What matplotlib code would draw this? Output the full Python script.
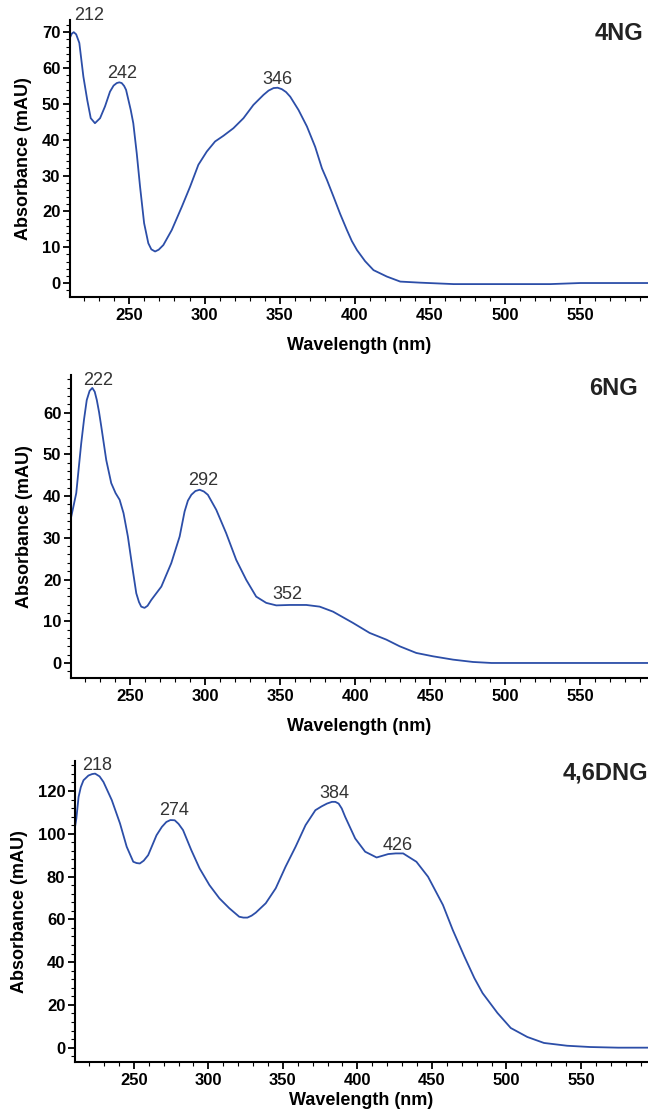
import matplotlib
matplotlib.use("Agg")
import matplotlib.pyplot as plt
from matplotlib.ticker import MultipleLocator

plt.rcParams['font.family'] = ['Liberation Sans', 'DejaVu Sans']

# 4NG spectrum (nm, mAU)
wl_4ng = [210.5, 211.7, 213, 214.6, 216.7, 219.4, 222, 224.3, 227.1, 230.5, 233.8, 237.1,
          239.5, 241.6, 243.3, 244.9, 246.5, 247.8, 250.9, 252.6, 254.9, 257.1, 259.8,
          262.6, 264.6, 267.1, 269.5, 272.6, 278.2, 284.9, 290.4, 295.9, 301.5, 307,
          312.6, 319.2, 325.9, 332.5, 339.2, 342.6, 345.9, 348.6, 351.4, 354.2, 357,
          362.5, 368.1, 373.6, 378.1, 381.4, 385.8, 390.2, 394.7, 398, 401.4, 406.8,
          412.4, 421.3, 430.2, 443.5, 465.7, 500, 530, 550, 570, 595]
abs_4ng = [68.5, 69.6, 70, 69.4, 67, 57.6, 51, 46, 44.6, 46, 49.3, 53.4,
           55.1, 55.8, 56, 55.8, 55, 53.9, 48.3, 44.6, 36.2, 26.9, 16.7,
           11.1, 9.4, 8.8, 9.3, 10.6, 14.8, 21.3, 26.9, 33, 36.7, 39.5,
           41.1, 43.2, 46, 49.7, 52.5, 53.7, 54.4, 54.5, 54.1, 53.3, 52,
           48.3, 43.7, 38, 32, 28.8, 24.1, 19.3, 14.8, 11.7, 9.2, 6.1,
           3.6, 1.8, 0.4, 0.1, -0.3, -0.3, -0.3, 0.0, 0.0, 0.0]

# 6NG spectrum
wl_6ng = [210.2, 212, 214, 215.6, 217.3, 219.2, 221, 222.9, 224.7, 226.3, 227.7, 229.2,
          230.7, 234, 237.3, 240.2, 242.9, 245.5, 248.4, 251.3, 254, 255.8, 257.3, 259.5,
          261.5, 264, 270.7, 277.3, 282.9, 286.2, 288.4, 290.7, 293.4, 296.2, 299, 301.7,
          307.3, 313.9, 320.6, 327.3, 333.9, 340.6, 347.3, 356.2, 367.3, 376.2, 385.1,
          398.4, 409.5, 420.6, 429.5, 440.6, 451.7, 465.1, 478.4, 490.7, 520, 560, 595]
abs_6ng = [34.3, 37.3, 40.7, 46.5, 52.6, 58.4, 63, 65.2, 65.9, 65, 63, 60.1,
           56.6, 48.6, 43.1, 40.7, 39.1, 35.9, 30.3, 23.1, 16.7, 14.6, 13.5, 13.2,
           13.7, 15.1, 18.3, 23.9, 30.3, 36.3, 38.9, 40.3, 41.2, 41.5, 41.1, 40.3,
           36.7, 31.1, 24.7, 19.9, 15.9, 14.4, 13.8, 13.9, 13.9, 13.5, 12.3,
           9.6, 7.2, 5.6, 4.0, 2.4, 1.6, 0.8, 0.24, 0.0, 0.0, 0.0, 0.0]

# 4,6DNG spectrum
wl_dng = [210.7, 211.4, 212.9, 214.4, 216.2, 219.5, 222, 224, 227, 229.6, 235.2, 240.7,
          245.2, 249.6, 251.8, 254, 256.6, 259.6, 265.2, 268.8, 271.8, 274.5, 277.4, 280,
          283, 288.5, 294.1, 300.7, 307.4, 314, 320.7, 323.5, 326.2, 329, 331.8, 338.5,
          345.2, 351.8, 358.5, 365.2, 371.8, 376, 379.6, 382.9, 385.2, 387.4, 389.5,
          391.8, 398.5, 405.2, 412.9, 416.8, 420.7, 425.7, 430.7, 439.6, 447.4, 457.4,
          464, 471.8, 478.5, 484, 494, 502.9, 514, 525.2, 540.7, 556.2, 575, 595]
abs_dng = [104, 107.1, 117.2, 121.8, 125, 127.2, 127.9, 128.1, 126.8, 124.2, 115.7, 104.8,
           93.9, 86.9, 86.3, 86.1, 87.4, 90, 99.3, 103.2, 105.5, 106.4, 106.3, 104.6,
           101.7, 92.4, 83.8, 76, 69.8, 65.2, 61.2, 60.8, 60.8, 61.7, 63.1, 67.5,
           74.5, 84.6, 93.9, 104, 111, 112.8, 114.1, 114.9, 114.9, 114.1, 111.8,
           107.9, 97.8, 91.6, 88.9, 89.7, 90.5, 90.8, 90.8, 86.9, 79.9, 66.7,
           55, 42.6, 32.5, 25.5, 16.2, 9.2, 5, 2.2, 0.9, 0.3, 0.0, 0.0]

names = ['4NG', '6NG', '4,6DNG']
peaks_4ng = [(212, 223, 74.6), (242, 245.5, 58.4), (346, 348.5, 56.9)]
peaks_6ng = [(222, 228.4, 67.8), (292, 298.4, 43.7), (352, 354.7, 16.3)]
peaks_dng = [(218, 225.2, 131.8), (274, 276.7, 110.7), (384, 384.4, 119), (426, 427, 94.7)]

W, H = 648, 1111
fig = plt.figure(figsize=(W / 100, H / 100), dpi=100)

# axes boxes in pixels: left, top, bottom
boxes = [(70, 20, 297), (71, 375, 678), (75, 761, 1062)]
ylims = [(-3.9, 73.4), (-3.6, 69.0), (-6.7, 134)]
ymaj = [10, 10, 20]
ymin = [2, 2, 4]
title_pos = [(643, 33), (638, 388), (563, 773)]
data = [(wl_4ng, abs_4ng, peaks_4ng), (wl_6ng, abs_6ng, peaks_6ng), (wl_dng, abs_dng, peaks_dng)]

line_col = '#2c4ea8'

for i, (wl, ab, pk) in enumerate(data):
    l, t, b = boxes[i]
    ax = fig.add_axes([l / W, 1 - b / H, (W - l) / W, (b - t) / H])
    ax.plot(wl, ab, color=line_col, lw=1.3, solid_joinstyle='round')
    ax.set_xlim(210.5, 595)
    ax.set_ylim(*ylims[i])
    ax.spines['top'].set_visible(False)
    ax.spines['right'].set_visible(False)
    ax.spines['left'].set_linewidth(1.5)
    ax.spines['bottom'].set_linewidth(1.5)
    ax.xaxis.set_major_locator(MultipleLocator(50))
    ax.xaxis.set_minor_locator(MultipleLocator(10))
    ax.yaxis.set_major_locator(MultipleLocator(ymaj[i]))
    ax.yaxis.set_minor_locator(MultipleLocator(ymin[i]))
    ax.tick_params(which='major', length=5, width=1.3, labelsize=12, pad=3)
    ax.tick_params(which='minor', length=3, width=0.8)
    ax.tick_params(axis='y', which='major', pad=2)
    for lab in ax.get_xticklabels() + ax.get_yticklabels():
        lab.set_fontweight('bold')
    ax.set_xlabel('Wavelength (nm)', fontsize=13, fontweight='bold',
                  labelpad=10 if i < 2 else 3)
    ax.set_ylabel('Absorbance (mAU)', fontsize=13, fontweight='bold', labelpad=7)
    for txt, x, y in pk:
        ax.text(x, y, str(txt), fontsize=13, color='#333333', ha='center', va='center',
                clip_on=False)
    tx, ty = title_pos[i]
    fig.text(tx / W, 1 - ty / H, names[i], fontsize=17, fontweight='bold', color='#222222',
             ha='right' if i < 2 else 'left', va='center')

fig.savefig('out.png', dpi=100)
